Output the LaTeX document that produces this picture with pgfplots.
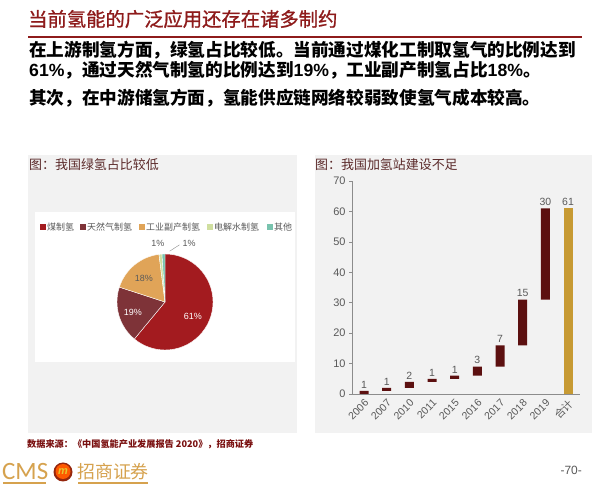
\documentclass[border=0pt]{standalone}
\usepackage{pgfplots}
\pgfplotsset{compat=1.18}
\usepackage{pgfplotstable}
\usepackage{fontspec}
\setmainfont{Liberation Sans}
\newfontfamily\cjk{Noto Sans CJK SC}
\newfontfamily\cjktitle[FakeBold=1]{Noto Sans CJK SC}
\newfontfamily\logofont{Carlito}
\newcommand\zh[1]{{\cjk #1}}

\definecolor{titlered}{HTML}{8E1B1B}
\definecolor{capcol}{HTML}{5B2A2A}
\definecolor{panelgray}{HTML}{F2F2F2}
\definecolor{textgray}{HTML}{595959}
\definecolor{axisgray}{HTML}{8C8C8C}
\definecolor{pieA}{HTML}{A31B1F}
\definecolor{pieB}{HTML}{7E3338}
\definecolor{pieC}{HTML}{E0A458}
\definecolor{pieD}{HTML}{D0DFA0}
\definecolor{pieE}{HTML}{79C3AE}
\definecolor{barred}{HTML}{5C1010}
\definecolor{bargold}{HTML}{C79A33}
\definecolor{srcred}{HTML}{7A1010}
\definecolor{cmsgold}{HTML}{D6A24E}

% hydrogen refuelling stations: waterfall = invisible base + new stations
\pgfplotstableread{
x base inc tot
0 0  1  0
1 1  1  0
2 2  2  0
3 4  1  0
4 5  1  0
5 6  3  0
6 9  7  0
7 16 15 0
8 31 30 0
9 0  0  61
}\stations

\pgfplotsset{stationaxis/.style={at={(352bp,93bp)}, anchor=south west, scale only axis,
  width=228bp, height=213bp, xmin=-0.53, xmax=9.53, ymin=0, ymax=70, clip=false,
  /pgf/number format/assume math mode=true}}

\begin{document}
\begin{tikzpicture}[x=1bp,y=1bp]
\path[use as bounding box, fill=white] (0,0) rectangle (600,487);

% heading
\node[anchor=west, inner sep=0, text=titlered, font=\cjktitle\fontsize{19.4}{22}\selectfont]
  at (28,468) {当前氢能的广泛应用还存在诸多制约};
\draw[titlered, line width=1.4bp] (28,450) -- (582,450);

\begin{scope}[every node/.style={anchor=west, inner sep=0, font=\bfseries\fontsize{17.7}{20}\selectfont}]
\node at (29,437) {\zh{在上游制氢方面，绿氢占比较低。当前通过煤化工制取氢气的比例达到}};
\node at (29,417) {61\%\zh{，通过天然气制氢的比例达到}19\%\zh{，工业副产制氢占比}18\%\zh{。}};
\node at (29,389) {\zh{其次，在中游储氢方面，氢能供应链网络较弱致使氢气成本较高。}};
\end{scope}

% panels
\fill[panelgray] (28,54) rectangle (297,332);
\fill[panelgray] (315,54) rectangle (592,332);
\fill[white] (35,125) rectangle (295,275);
\node[anchor=west, inner sep=0, text=capcol, font=\cjk\fontsize{13}{15}\selectfont] at (29,322) {图：我国绿氢占比较低};
\node[anchor=west, inner sep=0, text=capcol, font=\cjk\fontsize{13}{15}\selectfont] at (315,322) {图：我国加氢站建设不足};

% pie legend
\foreach \lx/\c/\t in {40/pieA/煤制氢, 80/pieB/天然气制氢, 139/pieC/工业副产制氢, 207/pieD/电解水制氢, 267/pieE/其他}{
  \fill[\c] (\lx,257) rectangle ++(6,6);
  \node[anchor=west, inner sep=0, text=textgray, font=\cjk\fontsize{9}{10}\selectfont] at (\lx+7,260) {\t};
}

% pie: share of hydrogen production routes
\begin{axis}[at={(165bp,185bp)}, anchor=center, hide axis, scale only axis,
  width=96bp, height=96bp, xmin=-1, xmax=1, ymin=-1, ymax=1, clip=false]
\pgfplotsextra{
  \xdef\curang{90}
  \foreach \v/\c in {61/pieA, 19/pieB, 18/pieC, 1/pieD, 1/pieE}{
    \pgfmathsetmacro\endang{\curang-3.6*\v}
    \fill[\c, draw=white, line width=0.4bp] (axis cs:0,0) -- ++(\curang:48bp)
      arc[start angle=\curang, end angle=\endang, radius=48bp] -- cycle;
    \xdef\curang{\endang}
  }
}
\begin{scope}[every node/.style={font=\fontsize{9}{10}\selectfont, inner sep=0}]
\node[text=white] at (axis cs:0.58,-0.31) {61\%};
\node[text=white] at (axis cs:-0.67,-0.21) {19\%};
\node[text=textgray] at (axis cs:-0.44,0.50) {18\%};
\node[text=textgray] at (axis cs:-0.15,1.21) {1\%};
\node[text=textgray] at (axis cs:0.50,1.21) {1\%};
\end{scope}
\draw[axisgray, line width=0.4bp] (axis cs:0.1,1.06) -- (axis cs:0.30,1.19);
\end{axis}

% bars: number of stations built
\begin{axis}[stationaxis,
  ybar stacked, bar width=9bp,
  ytick={0,10,...,70}, xtick={0,...,9},
  xticklabels={2006,2007,2010,2011,2015,2016,2017,2018,2019,\zh{合计}},
  axis lines*=left,
  axis line style={draw=axisgray, line width=0.6bp},
  xtick style={draw=none},
  ytick style={draw=axisgray, line width=0.6bp},
  tick align=outside, major tick length=3bp,
  yticklabel style={font=\fontsize{11}{13}\selectfont, text=textgray},
  xticklabel style={font=\fontsize{10.5}{12}\selectfont, text=textgray, rotate=45, anchor=north east, inner sep=1bp}]
\addplot[draw=none, fill=none] table[x=x, y=base] {\stations};
\addplot[draw=none, fill=barred] table[x=x, y=inc] {\stations};
\addplot[draw=none, fill=bargold] table[x=x, y=tot] {\stations};
\end{axis}
% value labels on top of each bar
\begin{axis}[stationaxis, hide axis]
\addplot[draw=none, point meta=explicit,
  nodes near coords, every node near coord/.append style={font=\fontsize{10.5}{12}\selectfont, text=textgray, anchor=south, inner sep=2.5bp}]
  table[x=x, y expr=\thisrow{base}+\thisrow{inc}+\thisrow{tot}, meta expr=\thisrow{inc}+\thisrow{tot}] {\stations};
\end{axis}

% source and footer
\node[anchor=west, inner sep=0, text=srcred, font=\cjk\bfseries\fontsize{9.2}{10}\selectfont]
  at (27,43) {数据来源：《中国氢能产业发展报告 2020》，招商证券};
\node[anchor=west, inner sep=0, text=cmsgold, font=\logofont\fontsize{25}{27}\selectfont] at (2,15) {CMS};
\fill[srcred!80!orange] (63,15) circle (9.5bp);
\fill[orange!70!red] (63,15.5) circle (7.5bp);
\node[text=cmsgold!60!yellow, font=\itshape\bfseries\fontsize{11}{11}\selectfont, inner sep=0] at (63,15) {m};
\node[anchor=west, inner sep=0, text=cmsgold, font=\cjk\fontsize{18}{20}\selectfont] at (77,15) {招商证券};
\draw[cmsgold, line width=1.2bp] (3,4) -- (46,4);
\draw[cmsgold, line width=1.2bp] (78,4) -- (148,4);
\node[anchor=east, inner sep=0, text=textgray, font=\fontsize{12}{14}\selectfont] at (582,17) {-70-};
\end{tikzpicture}
\end{document}
